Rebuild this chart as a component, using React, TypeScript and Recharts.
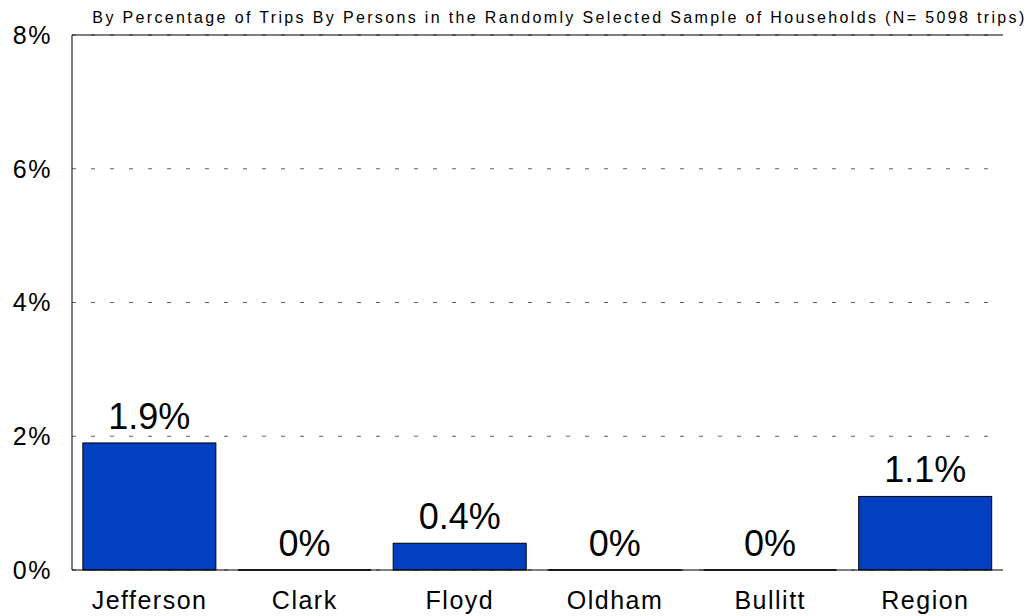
import { BarChart, Bar, XAxis, YAxis, CartesianGrid, LabelList, ReferenceLine } from 'recharts';

const counties = ['Jefferson', 'Clark', 'Floyd', 'Oldham', 'Bullitt', 'Region'];
const shares = [1.9, 0, 0.4, 0, 0, 1.1];
const yTicks = [0, 2, 4, 6, 8];

const data = counties.map((name, i) => ({ name, value: shares[i] }));

const FONT = '"Liberation Sans", Arial, sans-serif';

function BarShape(props: any) {
  const { x, y, width, height } = props;
  if (!height) {
    return <line x1={x} x2={x + width} y1={y} y2={y} stroke="#333" strokeWidth={2} />;
  }
  return <rect x={x} y={y} width={width} height={height} fill="#0040C0" stroke="#000" strokeWidth={1} />;
}

export default function App() {
  return (
    <div style={{ position: 'absolute', left: 0, top: 0, width: 1033, height: 616, background: '#fff', fontFamily: FONT }}>
      <div
        style={{
          position: 'absolute',
          left: 92,
          top: 9,
          width: 935,
          textAlign: 'center',
          fontSize: 16,
          letterSpacing: 2.35,
          color: '#000',
          whiteSpace: 'nowrap',
        }}
      >
        By Percentage of Trips By Persons in the Randomly Selected Sample of Households (N= 5098 trips)
      </div>
      <BarChart
        width={1033}
        height={616}
        data={data}
        margin={{ top: 35, right: 30, bottom: 0, left: 0 }}
        barCategoryGap="7%"
      >
        <CartesianGrid yAxisId="left" vertical={false} stroke="#606060" strokeDasharray="4 15" />
        <XAxis
          dataKey="name"
          height={46}
          axisLine={{ stroke: '#000' }}
          tickLine={false}
          tick={{ fontSize: 25, fill: '#000', fontFamily: FONT, letterSpacing: 1.5 }}
          dy={13}
        />
        <YAxis
          yAxisId="left"
          width={72}
          domain={[0, 8]}
          ticks={yTicks}
          tickFormatter={(v) => `${v}%`}
          axisLine={{ stroke: '#000' }}
          tickLine={false}
          tick={{ fontSize: 25, fill: '#000', fontFamily: FONT, letterSpacing: 1.5 }}
          dx={-12}
        />
        <YAxis
          yAxisId="right"
          orientation="right"
          width={0}
          domain={[0, 8]}
          ticks={yTicks}
          tick={false}
          tickLine={false}
          axisLine={{ stroke: '#000' }}
        />
        <ReferenceLine yAxisId="left" y={8} stroke="#000" strokeWidth={1} />
        <Bar yAxisId="left" dataKey="value" shape={<BarShape />} isAnimationActive={false}>
          <LabelList
            dataKey="value"
            position="top"
            offset={14}
            formatter={(v: any) => `${v}%`}
            style={{ fontSize: 36, fill: '#000', fontFamily: FONT }}
          />
        </Bar>
      </BarChart>
    </div>
  );
}
